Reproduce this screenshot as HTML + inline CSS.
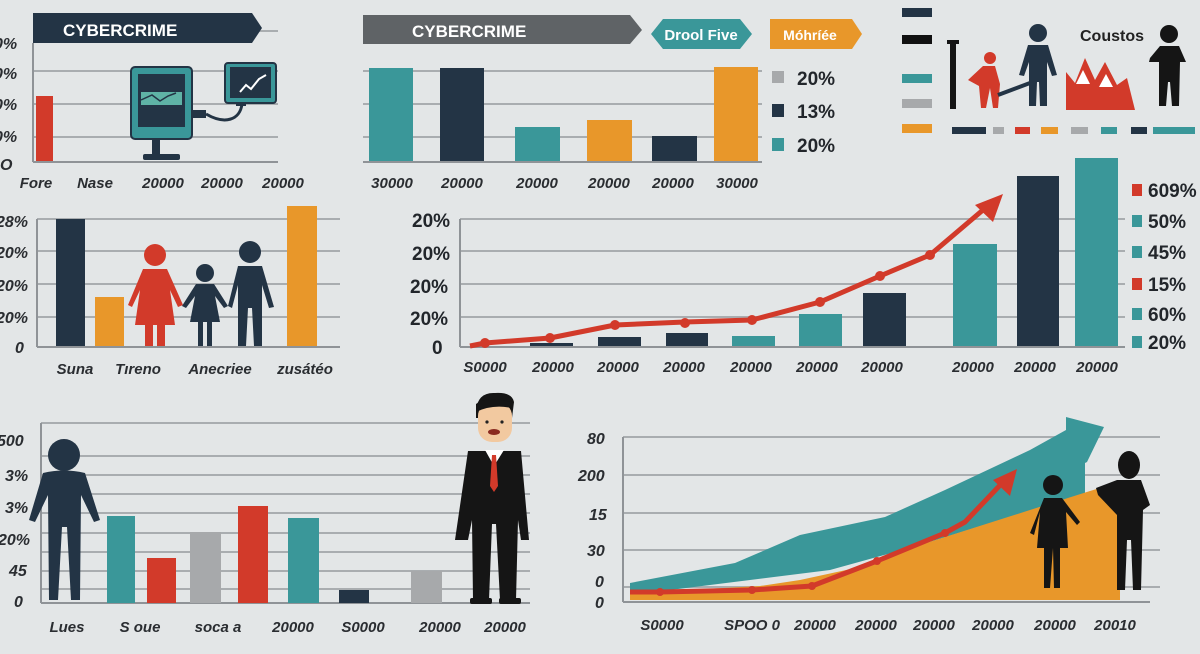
<!DOCTYPE html>
<html><head><meta charset="utf-8"><style>
html,body{margin:0;padding:0;background:#e3e6e7;}
svg{display:block;}
text{font-family:"Liberation Sans",sans-serif;}
.xl{font-size:15px;font-style:italic;font-weight:bold;fill:#2a2d31;text-anchor:middle;}
.yl{font-size:16px;font-style:italic;font-weight:bold;fill:#2a2d31;}
.lg{font-size:19px;font-weight:bold;fill:#22262b;}
.g{stroke:#a9adb0;stroke-width:2;}
.ax{stroke:#8f9397;stroke-width:2;}
</style></head><body>
<svg width="1200" height="654" viewBox="0 0 1200 654" xmlns="http://www.w3.org/2000/svg">
<rect width="1200" height="654" fill="#e3e6e7"/>

<!-- Panel 1 -->
<g>
<line class="g" x1="230" y1="31" x2="278" y2="31"/>
<line class="g" x1="33" y1="71" x2="278" y2="71"/>
<line class="g" x1="33" y1="104" x2="278" y2="104"/>
<line class="g" x1="33" y1="137" x2="278" y2="137"/>
<line class="ax" x1="33" y1="162" x2="278" y2="162"/>
<line class="ax" x1="33" y1="43" x2="33" y2="162"/>
<polygon points="33,13 252,13 262,28 252,43 33,43" fill="#233445"/>
<text x="63" y="36" font-size="17" font-weight="bold" fill="#fff">CYBERCRIME</text>
<text class="yl" x="-6" y="49">0%</text>
<text class="yl" x="-6" y="79">0%</text>
<text class="yl" x="-6" y="110">0%</text>
<text class="yl" x="-6" y="142">0%</text>
<text class="yl" x="0" y="170">O</text>
<rect x="36" y="96" width="17" height="65" fill="#d23a2a"/>
<!-- monitor -->
<rect x="131" y="67" width="61" height="72" rx="4" fill="#3a9799" stroke="#233445" stroke-width="2"/>
<rect x="138" y="74" width="47" height="53" fill="#233445"/>
<rect x="141" y="92" width="41" height="13" fill="#5fb3a6"/>
<polyline points="141,100 152,95 160,101 168,96 176,93" fill="none" stroke="#233445" stroke-width="1.5"/>
<rect x="152" y="138" width="8" height="17" fill="#233445"/>
<rect x="143" y="154" width="37" height="6" rx="2" fill="#233445"/>
<rect x="192" y="110" width="14" height="8" fill="#233445"/>
<path d="M206,114 C225,125 240,120 242,104" fill="none" stroke="#233445" stroke-width="3"/>
<rect x="225" y="63" width="51" height="40" rx="3" fill="#3a9799" stroke="#233445" stroke-width="2"/>
<rect x="230" y="67" width="41" height="31" fill="#233445"/>
<polyline points="240,92 246,85 251,89 259,79 266,75" fill="none" stroke="#fff" stroke-width="2"/>
<rect x="236" y="102" width="10" height="4" fill="#233445"/>
<text class="xl" x="36" y="188">Fore</text>
<text class="xl" x="95" y="188">Nase</text>
<text class="xl" x="163" y="188">20000</text>
<text class="xl" x="222" y="188">20000</text>
<text class="xl" x="283" y="188">20000</text>
</g>

<!-- Panel 2 -->
<g>
<line class="g" x1="363" y1="71" x2="762" y2="71"/>
<line class="g" x1="363" y1="104" x2="762" y2="104"/>
<line class="g" x1="363" y1="137" x2="762" y2="137"/>
<line class="ax" x1="363" y1="162" x2="762" y2="162"/>
<polygon points="363,15 630,15 642,30 630,44 363,44" fill="#5f6366"/>
<text x="412" y="37" font-size="17" font-weight="bold" fill="#fff">CYBERCRIME</text>
<polygon points="663,19 740,19 752,34 740,49 663,49 651,34" fill="#3a9799"/>
<text x="701" y="40" font-size="15" font-weight="bold" fill="#fff" text-anchor="middle">Drool Five</text>
<polygon points="770,19 852,19 862,34 852,49 770,49" fill="#e8972a"/>
<text x="810" y="40" font-size="14" font-weight="bold" fill="#fff" text-anchor="middle">Móhríée</text>
<rect x="369" y="68" width="44" height="93" fill="#3a9799"/>
<rect x="440" y="68" width="44" height="93" fill="#233445"/>
<rect x="515" y="127" width="45" height="34" fill="#3a9799"/>
<rect x="587" y="120" width="45" height="41" fill="#e8972a"/>
<rect x="652" y="136" width="45" height="25" fill="#233445"/>
<rect x="714" y="67" width="44" height="94" fill="#e8972a"/>
<rect x="772" y="71" width="12" height="12" fill="#a7a9ab"/>
<rect x="772" y="104" width="12" height="13" fill="#233445"/>
<rect x="772" y="138" width="12" height="13" fill="#3a9799"/>
<text class="lg" x="797" y="85">20%</text>
<text class="lg" x="797" y="118">13%</text>
<text class="lg" x="797" y="152">20%</text>
<text class="xl" x="392" y="188">30000</text>
<text class="xl" x="462" y="188">20000</text>
<text class="xl" x="537" y="188">20000</text>
<text class="xl" x="609" y="188">20000</text>
<text class="xl" x="673" y="188">20000</text>
<text class="xl" x="737" y="188">30000</text>
</g>

<!-- Panel 3 top-right -->
<g>
<rect x="902" y="8" width="30" height="9" fill="#233445"/>
<rect x="902" y="35" width="30" height="9" fill="#111"/>
<rect x="902" y="74" width="30" height="9" fill="#3a9799"/>
<rect x="902" y="99" width="30" height="9" fill="#a7a9ab"/>
<rect x="902" y="124" width="30" height="9" fill="#e8972a"/>
<rect x="950" y="42" width="6" height="67" fill="#151515"/>
<rect x="947" y="40" width="12" height="4" fill="#151515"/>
<!-- red worker -->
<circle cx="990" cy="58" r="6" fill="#d23a2a"/>
<path d="M983,66 L995,66 L1000,84 L998,108 L993,108 L990,88 L986,108 L981,108 L979,86 L968,80 Z" fill="#d23a2a"/>
<line x1="998" y1="95" x2="1030" y2="83" stroke="#233445" stroke-width="4"/>
<!-- navy person -->
<circle cx="1038" cy="33" r="9" fill="#233445"/>
<path d="M1028,45 L1048,45 L1057,75 L1052,76 L1047,62 L1047,106 L1040,106 L1039,82 L1037,82 L1036,106 L1029,106 L1029,62 L1024,76 L1019,75 Z" fill="#233445"/>
<text x="1080" y="41" font-size="16" font-weight="bold" fill="#222">Coustos</text>
<polygon points="1066,110 1066,72 1075,83 1085,58 1095,80 1105,62 1117,85 1127,78 1135,110" fill="#d23a2a"/>
<polygon points="1083,70 1076,84 1090,84" fill="#fff"/><polygon points="1106,74 1099,87 1113,87" fill="#fff"/>
<!-- black person -->
<circle cx="1169" cy="34" r="9" fill="#151515"/>
<path d="M1160,46 L1179,46 L1186,62 L1180,62 L1179,106 L1172,106 L1170,82 L1168,82 L1166,106 L1159,106 L1159,62 L1149,62 L1150,58 Z" fill="#151515"/>
<rect x="952" y="127" width="34" height="7" fill="#233445"/>
<rect x="993" y="127" width="11" height="7" fill="#a7a9ab"/>
<rect x="1015" y="127" width="15" height="7" fill="#d23a2a"/>
<rect x="1041" y="127" width="17" height="7" fill="#e8972a"/>
<rect x="1071" y="127" width="17" height="7" fill="#a7a9ab"/>
<rect x="1101" y="127" width="16" height="7" fill="#3a9799"/>
<rect x="1131" y="127" width="16" height="7" fill="#233445"/>
<rect x="1153" y="127" width="42" height="7" fill="#3a9799"/>
</g>

<!-- Middle-left -->
<g>
<line class="g" x1="37" y1="219" x2="340" y2="219"/>
<line class="g" x1="37" y1="251" x2="340" y2="251"/>
<line class="g" x1="37" y1="284" x2="340" y2="284"/>
<line class="g" x1="37" y1="317" x2="340" y2="317"/>
<line class="ax" x1="37" y1="347" x2="340" y2="347"/>
<line class="ax" x1="37" y1="219" x2="37" y2="347"/>
<text class="yl" x="-4" y="227">28%</text>
<text class="yl" x="-4" y="258">20%</text>
<text class="yl" x="-4" y="291">20%</text>
<text class="yl" x="-4" y="323">20%</text>
<text class="yl" x="15" y="353">0</text>
<rect x="56" y="219" width="29" height="127" fill="#233445"/>
<rect x="95" y="297" width="29" height="49" fill="#e8972a"/>
<rect x="287" y="206" width="30" height="140" fill="#e8972a"/>
<!-- family -->
<circle cx="155" cy="255" r="11" fill="#d23a2a"/>
<path d="M143,269 L167,269 L183,305 L178,307 L170,290 L175,325 L165,325 L165,346 L157,346 L157,325 L153,325 L153,346 L145,346 L145,325 L135,325 L140,290 L132,307 L128,305 Z" fill="#d23a2a"/>
<circle cx="205" cy="273" r="9" fill="#233445"/>
<path d="M196,284 L214,284 L228,306 L224,308 L215,296 L220,322 L212,322 L212,346 L207,346 L207,322 L203,322 L203,346 L198,346 L198,322 L190,322 L195,296 L186,308 L182,306 Z" fill="#233445"/>
<circle cx="250" cy="252" r="11" fill="#233445"/>
<path d="M238,266 L262,266 L274,307 L269,308 L262,285 L262,346 L254,346 L252,308 L248,308 L246,346 L238,346 L238,285 L232,308 L228,306 Z" fill="#233445"/>
<text class="xl" x="75" y="374">Suna</text>
<text class="xl" x="138" y="374">Tıreno</text>
<text class="xl" x="220" y="374">Anecriee</text>
<text class="xl" x="305" y="374">zusátéo</text>
</g>

<!-- Middle-right -->
<g>
<line class="g" x1="460" y1="219" x2="1125" y2="219"/>
<line class="g" x1="460" y1="251" x2="1125" y2="251"/>
<line class="g" x1="460" y1="284" x2="1125" y2="284"/>
<line class="g" x1="460" y1="317" x2="1125" y2="317"/>
<line class="ax" x1="460" y1="347" x2="1125" y2="347"/>
<line class="ax" x1="460" y1="219" x2="460" y2="347"/>
<text class="lg" x="412" y="227" font-size="18">20%</text>
<text class="lg" x="412" y="260" font-size="18">20%</text>
<text class="lg" x="410" y="293" font-size="18">20%</text>
<text class="lg" x="410" y="325" font-size="18">20%</text>
<text class="lg" x="432" y="354" font-size="18">0</text>
<rect x="530" y="343" width="43" height="3" fill="#233445"/>
<rect x="598" y="337" width="43" height="9" fill="#233445"/>
<rect x="666" y="333" width="42" height="13" fill="#233445"/>
<rect x="732" y="336" width="43" height="10" fill="#3a9799"/>
<rect x="799" y="314" width="43" height="32" fill="#3a9799"/>
<rect x="863" y="293" width="43" height="53" fill="#233445"/>
<rect x="953" y="244" width="44" height="102" fill="#3a9799"/>
<rect x="1017" y="176" width="42" height="170" fill="#233445"/>
<rect x="1075" y="158" width="43" height="188" fill="#3a9799"/>
<polyline points="470,346 485,343 550,338 615,325 685,322 752,320 820,302 880,276 930,255 990,204" fill="none" stroke="#d23a2a" stroke-width="5" stroke-linejoin="round"/>
<g fill="#d23a2a"><circle cx="485" cy="343" r="5"/><circle cx="550" cy="338" r="5"/><circle cx="615" cy="325" r="5"/><circle cx="685" cy="323" r="5"/><circle cx="752" cy="320" r="5"/><circle cx="820" cy="302" r="5"/><circle cx="880" cy="276" r="5"/><circle cx="930" cy="255" r="5"/></g>
<polygon points="1003,194 975,205 993,222" fill="#d23a2a"/>
<rect x="1132" y="184" width="10" height="12" fill="#d23a2a"/><text class="lg" x="1148" y="197" font-size="17">609%</text>
<rect x="1132" y="215" width="10" height="12" fill="#3a9799"/><text class="lg" x="1148" y="228" font-size="17">50%</text>
<rect x="1132" y="246" width="10" height="12" fill="#3a9799"/><text class="lg" x="1148" y="259" font-size="17">45%</text>
<rect x="1132" y="278" width="10" height="12" fill="#d23a2a"/><text class="lg" x="1148" y="291" font-size="17">15%</text>
<rect x="1132" y="308" width="10" height="12" fill="#3a9799"/><text class="lg" x="1148" y="321" font-size="17">60%</text>
<rect x="1132" y="336" width="10" height="12" fill="#3a9799"/><text class="lg" x="1148" y="349" font-size="17">20%</text>
<text class="xl" x="485" y="372">S0000</text>
<text class="xl" x="553" y="372">20000</text>
<text class="xl" x="618" y="372">20000</text>
<text class="xl" x="684" y="372">20000</text>
<text class="xl" x="751" y="372">20000</text>
<text class="xl" x="817" y="372">20000</text>
<text class="xl" x="882" y="372">20000</text>
<text class="xl" x="973" y="372">20000</text>
<text class="xl" x="1035" y="372">20000</text>
<text class="xl" x="1097" y="372">20000</text>
</g>

<!-- Bottom-left -->
<g>
<line class="g" x1="41" y1="423" x2="530" y2="423"/>
<line class="g" x1="41" y1="456" x2="530" y2="456"/>
<line class="g" x1="41" y1="475" x2="530" y2="475"/>
<line class="g" x1="41" y1="494" x2="530" y2="494"/>
<line class="g" x1="41" y1="513" x2="530" y2="513"/>
<line class="g" x1="41" y1="533" x2="530" y2="533"/>
<line class="g" x1="41" y1="552" x2="530" y2="552"/>
<line class="g" x1="41" y1="571" x2="530" y2="571"/>
<line class="g" x1="41" y1="589" x2="530" y2="589"/>
<line class="ax" x1="41" y1="603" x2="530" y2="603"/>
<line class="ax" x1="41" y1="423" x2="41" y2="603"/>
<text class="yl" x="-3" y="446">500</text>
<text class="yl" x="5" y="481">3%</text>
<text class="yl" x="5" y="513">3%</text>
<text class="yl" x="-2" y="545">20%</text>
<text class="yl" x="9" y="576">45</text>
<text class="yl" x="14" y="607">0</text>
<!-- navy person -->
<circle cx="64" cy="455" r="16" fill="#233445"/>
<path d="M43,473 Q64,468 85,473 L100,520 L94,522 L81,495 L80,600 L71,600 L67,527 L62,527 L58,600 L49,600 L48,495 L35,522 L29,520 Z" fill="#233445"/>
<rect x="107" y="516" width="28" height="87" fill="#3a9799"/>
<rect x="147" y="558" width="29" height="45" fill="#d23a2a"/>
<rect x="190" y="532" width="31" height="71" fill="#a7a9ab"/>
<rect x="238" y="506" width="30" height="97" fill="#d23a2a"/>
<rect x="288" y="518" width="31" height="85" fill="#3a9799"/>
<rect x="339" y="590" width="30" height="13" fill="#233445"/>
<rect x="411" y="571" width="31" height="32" fill="#a7a9ab"/>
<!-- businessman -->
<path d="M476,410 Q478,392 495,393 Q512,392 514,402 L512,418 L476,418 Z" fill="#151515"/>
<rect x="478" y="402" width="34" height="40" rx="14" fill="#f2c9a0"/>
<path d="M476,404 Q486,396 512,402 L512,408 Q492,404 476,412 Z" fill="#151515"/>
<ellipse cx="494" cy="432" rx="6" ry="3" fill="#8a2a20"/>
<circle cx="487" cy="422" r="1.6" fill="#222"/><circle cx="502" cy="422" r="1.6" fill="#222"/>
<path d="M468,451 L521,451 L529,540 L521,540 L518,520 L516,600 L500,600 L496,524 L492,524 L489,600 L473,600 L472,520 L468,540 L455,540 Z" fill="#151515"/>
<polygon points="485,450 504,450 494,466" fill="#fff"/>
<polygon points="492,455 496,455 498,486 494,492 490,486" fill="#d23a2a"/>
<rect x="470" y="598" width="22" height="6" rx="2" fill="#151515"/><rect x="499" y="598" width="22" height="6" rx="2" fill="#151515"/>
<text class="xl" x="67" y="632">Lues</text>
<text class="xl" x="140" y="632">S oue</text>
<text class="xl" x="218" y="632">soca a</text>
<text class="xl" x="293" y="632">20000</text>
<text class="xl" x="363" y="632">S0000</text>
<text class="xl" x="440" y="632">20000</text>
<text class="xl" x="505" y="632">20000</text>
</g>

<!-- Bottom-right -->
<g>
<line class="g" x1="623" y1="437" x2="1160" y2="437"/>
<line class="g" x1="623" y1="475" x2="1160" y2="475"/>
<line class="g" x1="623" y1="513" x2="1160" y2="513"/>
<line class="g" x1="623" y1="550" x2="1160" y2="550"/>
<line class="g" x1="623" y1="587" x2="1160" y2="587"/>
<line class="ax" x1="623" y1="602" x2="1150" y2="602"/>
<line class="ax" x1="623" y1="437" x2="623" y2="602"/>
<text class="yl" x="587" y="444">80</text>
<text class="yl" x="578" y="481">200</text>
<text class="yl" x="589" y="520">15</text>
<text class="yl" x="587" y="556">30</text>
<text class="yl" x="595" y="587">0</text>
<text class="yl" x="595" y="608">0</text>
<polygon points="630,583 735,563 800,535 885,517 945,490 1030,450 1066,430 1066,417 1104,427 1087,462 1085,463 1085,500 1000,520 920,545 830,570 630,595" fill="#3a9799"/>
<polygon points="630,593 760,586 800,580 860,567 920,545 1030,510 1090,491 1120,482 1120,600 630,600" fill="#e8972a"/>
<polyline points="630,592 660,592 752,590 812,586 877,561 945,533 965,522 1005,480" fill="none" stroke="#d23a2a" stroke-width="5" stroke-linejoin="round"/>
<g fill="#d23a2a"><circle cx="660" cy="592" r="4"/><circle cx="752" cy="590" r="4"/><circle cx="812" cy="586" r="4"/><circle cx="877" cy="561" r="4"/><circle cx="945" cy="533" r="4"/></g>
<polygon points="1017,469 993,480 1010,496" fill="#d23a2a"/>
<!-- figures -->
<circle cx="1053" cy="485" r="10" fill="#151515"/>
<path d="M1044,498 L1062,498 L1080,522 L1077,525 L1066,512 L1068,548 L1060,548 L1060,588 L1054,588 L1053,548 L1050,588 L1044,588 L1044,548 L1037,548 L1040,512 L1034,535 L1030,533 Z" fill="#151515"/>
<ellipse cx="1129" cy="465" rx="11" ry="14" fill="#151515"/>
<path d="M1117,480 L1141,480 L1150,505 L1143,510 L1141,590 L1133,590 L1131,540 L1127,540 L1125,590 L1117,590 L1117,515 L1098,495 L1096,488 Z" fill="#151515"/>
<text class="xl" x="662" y="630">S0000</text>
<text class="xl" x="752" y="630">SPOO 0</text>
<text class="xl" x="815" y="630">20000</text>
<text class="xl" x="876" y="630">20000</text>
<text class="xl" x="934" y="630">20000</text>
<text class="xl" x="993" y="630">20000</text>
<text class="xl" x="1055" y="630">20000</text>
<text class="xl" x="1115" y="630">20010</text>
</g>
</svg>
</body></html>
